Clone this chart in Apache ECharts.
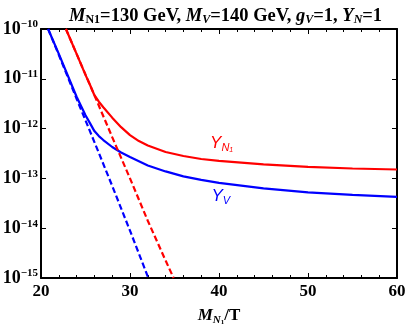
<!DOCTYPE html>
<html>
<head>
<meta charset="utf-8">
<script src="https://cdn.jsdelivr.net/npm/echarts@6/dist/echarts.min.js"></script>
<style>
  html, body { margin: 0; padding: 0; background: #fff; }
  #chart { width: 407px; height: 327px; }
</style>
</head>
<body>
<div id="chart"></div>
<script>
// values: [M_N1/T, Y]
const yN1 = [[22.8, 1e-10], [24, 3.16e-11], [25, 1.20e-11], [25.5, 7.59e-12], [26, 4.68e-12],
  [26.5, 3.47e-12], [27, 2.69e-12], [28, 1.66e-12], [29, 1.07e-12], [30, 7.41e-13],
  [31, 5.62e-13], [32, 4.57e-13], [34, 3.39e-13], [36, 2.82e-13], [38, 2.45e-13],
  [40, 2.24e-13], [45, 1.91e-13], [50, 1.70e-13], [55, 1.58e-13], [60, 1.51e-13]];
const yV = [[20.8, 1e-10], [22, 3.16e-11], [24, 4.37e-12], [25, 1.86e-12], [25.5, 1.29e-12],
  [26, 8.91e-13], [26.5, 7.08e-13], [27, 5.89e-13], [28, 4.27e-13], [29, 3.31e-13],
  [30, 2.69e-13], [32, 1.82e-13], [34, 1.38e-13], [36, 1.10e-13], [38, 9.33e-14],
  [40, 8.13e-14], [45, 6.31e-14], [50, 5.25e-14], [55, 4.68e-14], [60, 4.27e-14]];
const yN1eq = [[22.8, 1e-10], [24, 3.16e-11], [26, 4.68e-12], [28, 6.76e-13], [30, 1e-13],
  [32, 1.41e-14], [34, 2.24e-15], [34.9, 1e-15]];
const yVeq = [[20.8, 1e-10], [22, 3.02e-11], [24, 3.98e-12], [26, 5.37e-13], [28, 7.08e-14],
  [30, 8.91e-15], [32, 1.07e-15], [32.1, 1e-15]];
const xTicks = [20, 30, 40, 50, 60];
const labelN1 = [40.3, 5.1e-13];
const labelV = [40.2, 4.3e-14];

const serif = '"Liberation Serif", "DejaVu Serif", serif';
const sans = '"Liberation Sans", Arial, sans-serif';
const black = '#000';

const chart = echarts.init(document.getElementById('chart'));

const tickStyle = { show: true, inside: true, length: 5, lineStyle: { color: black, width: 1 } };
const minorStyle = { show: true, splitNumber: 5, length: 3, lineStyle: { color: black, width: 1 } };

function curveLabel(text, color, coord) {
  return {
    symbol: 'circle',
    symbolSize: 1,
    itemStyle: { color: 'rgba(0,0,0,0)' },
    silent: true,
    data: [{ coord: coord }],
    label: {
      show: true,
      position: 'inside',
      formatter: text,
      rich: {
        y: { fontFamily: sans, fontStyle: 'italic', fontSize: 17, color: color, lineHeight: 20 },
        s: { fontFamily: sans, fontStyle: 'italic', fontSize: 11, color: color, lineHeight: 8, verticalAlign: 'bottom' },
        ss: { fontFamily: sans, fontStyle: 'italic', fontSize: 7, color: color, lineHeight: 3, verticalAlign: 'bottom' }
      }
    }
  };
}

const option = {
  animation: false,
  backgroundColor: '#fff',
  title: {
    left: 64,
    top: 1,
    text: '{m|M}{s|N1}{b|=130 GeV, }{m|M}{si|V}{b|=140 GeV, }{m|g}{si|V}{b|=1, }{m|Y}{si|N}{b|=1}',
    textStyle: {
      rich: {
        m: { fontFamily: serif, fontWeight: 'bold', fontStyle: 'italic', fontSize: 18.5, color: black, lineHeight: 20 },
        b: { fontFamily: serif, fontWeight: 'bold', fontSize: 18.5, color: black, lineHeight: 20 },
        s: { fontFamily: serif, fontWeight: 'bold', fontSize: 12, color: black, lineHeight: 12, verticalAlign: 'bottom' },
        si: { fontFamily: serif, fontWeight: 'bold', fontStyle: 'italic', fontSize: 12, color: black, lineHeight: 12, verticalAlign: 'bottom' }
      }
    }
  },
  grid: { left: 41, right: 10, top: 29, bottom: 49, outerBoundsMode: 'none' },
  xAxis: [{
    type: 'value', min: 20, max: 60, interval: 10,
    axisLine: { show: true, onZero: false, lineStyle: { color: black, width: 2 } },
    axisTick: tickStyle,
    minorTick: minorStyle,
    splitLine: { show: false },
    axisLabel: {
      margin: 5, fontFamily: serif, fontWeight: 'bold', fontSize: 17, color: black,
      formatter: v => xTicks.includes(v) ? String(v) : ''
    },
    name: '{m|M}{s|N}{ss|1}{b|/T}',
    nameLocation: 'middle',
    nameGap: 28,
    nameTextStyle: {
      rich: {
        m: { fontFamily: serif, fontWeight: 'bold', fontStyle: 'italic', fontSize: 17, color: black, lineHeight: 20 },
        b: { fontFamily: serif, fontWeight: 'bold', fontSize: 17, color: black, lineHeight: 20 },
        s: { fontFamily: serif, fontWeight: 'bold', fontStyle: 'italic', fontSize: 11, color: black, lineHeight: 10, verticalAlign: 'bottom' },
        ss: { fontFamily: serif, fontWeight: 'bold', fontSize: 7, color: black, lineHeight: 4, verticalAlign: 'bottom' }
      }
    }
  }, {
    type: 'value', min: 20, max: 60, interval: 10, position: 'top',
    axisLine: { show: true, onZero: false, lineStyle: { color: black, width: 2 } },
    axisTick: tickStyle,
    minorTick: minorStyle,
    splitLine: { show: false },
    axisLabel: { show: false }
  }],
  yAxis: [{
    type: 'log', logBase: 10, min: 1e-15, max: 1e-10,
    axisLine: { show: true, onZero: false, lineStyle: { color: black, width: 2 } },
    axisTick: tickStyle,
    splitLine: { show: false },
    axisLabel: {
      margin: 3,
      formatter: v => '{b|10}{s|' + '\u2212' + Math.round(-Math.log10(v)) + '}',
      rich: {
        b: { fontFamily: serif, fontWeight: 'bold', fontSize: 18, color: black, lineHeight: 20 },
        s: { fontFamily: serif, fontWeight: 'bold', fontSize: 11, color: black, lineHeight: 12, verticalAlign: 'top' }
      }
    }
  }, {
    type: 'log', logBase: 10, min: 1e-15, max: 1e-10, position: 'right',
    axisLine: { show: true, onZero: false, lineStyle: { color: black, width: 2 } },
    axisTick: tickStyle,
    splitLine: { show: false },
    axisLabel: { show: false }
  }],
  series: [
    {
      name: 'YN1', type: 'line', data: yN1, showSymbol: false,
      lineStyle: { color: '#ff0000', width: 2.2 }, clip: true,
      markPoint: curveLabel('{y|Y}{s|N}{ss|1}', '#ff0000', labelN1)
    },
    {
      name: 'YV', type: 'line', data: yV, showSymbol: false,
      lineStyle: { color: '#0000ff', width: 2.2 }, clip: true,
      markPoint: curveLabel('{y|Y}{s|V}', '#0000ff', labelV)
    },
    {
      name: 'YN1eq', type: 'line', data: yN1eq, showSymbol: false,
      lineStyle: { color: '#ff0000', width: 2.2, type: [6, 3] }, clip: true
    },
    {
      name: 'YVeq', type: 'line', data: yVeq, showSymbol: false,
      lineStyle: { color: '#0000ff', width: 2.2, type: [6, 3] }, clip: true
    }
  ]
};

chart.setOption(option);
</script>
</body>
</html>
